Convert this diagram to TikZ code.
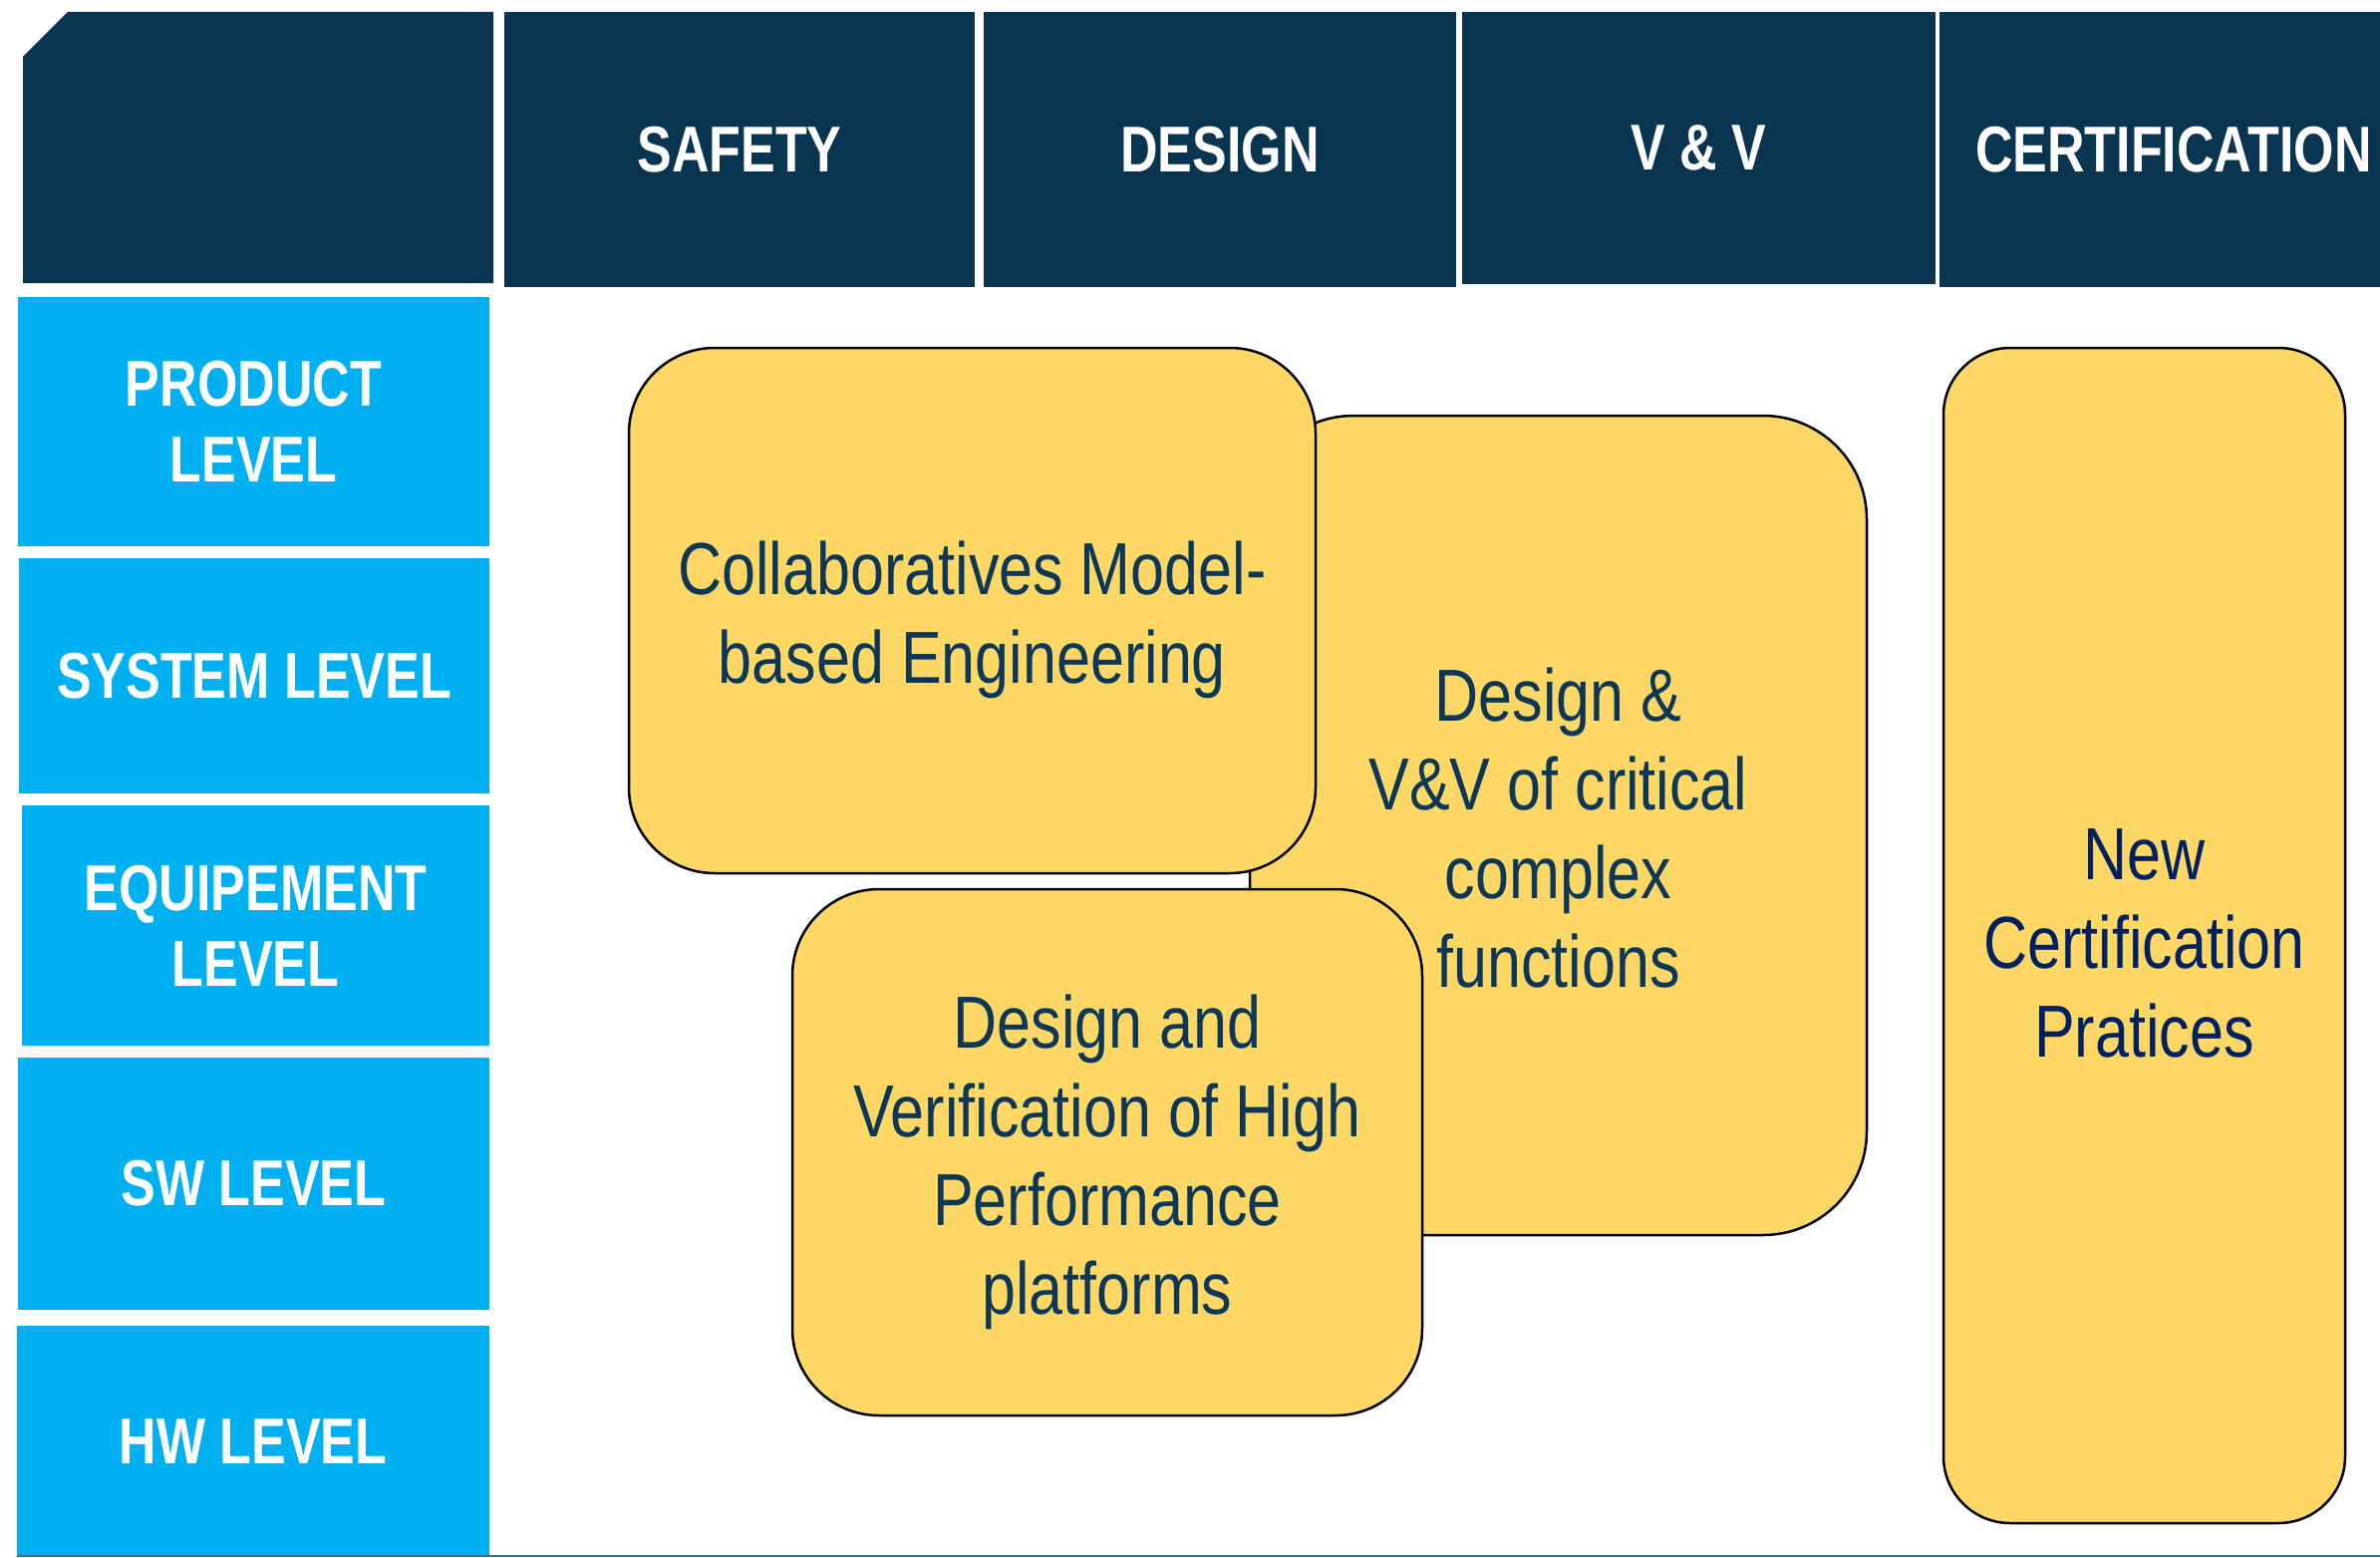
\documentclass[tikz,border=0pt]{standalone}
\usepackage{fontspec}
\setmainfont{Liberation Sans}[FakeStretch=0.8]
\newfontfamily\yfont{Liberation Sans}[FakeStretch=0.825]
\definecolor{hdr}{HTML}{0A3550}
\definecolor{lvl}{HTML}{00B0F0}
\definecolor{yel}{HTML}{FDD866}
\definecolor{ytxt}{HTML}{0C3756}
\definecolor{ctxt}{HTML}{002060}
\definecolor{bline}{HTML}{3F6E9E}
\tikzset{
  hdrbox/.style={fill=hdr, draw=none, inner sep=0pt, outer sep=0pt, text=white,
    font=\bfseries\fontsize{65}{75}\selectfont},
  lvlbox/.style={fill=lvl, draw=none, inner sep=0pt, outer sep=0pt, text=white, align=center,
    font=\bfseries\fontsize{65}{76}\selectfont},
  ybox/.style={fill=yel, draw=black, line width=2.5pt, inner sep=0pt, outer sep=0pt},
  ytext/.style={inner sep=0pt, text=ytxt, align=center, font=\yfont\fontsize{74}{89}\selectfont}
}
\begin{document}
\begin{tikzpicture}[x=1pt,y=-1pt]
\useasboundingbox (0,0) rectangle (2388,1563);
\clip (0,0) rectangle (2388,1563);
\fill[white] (0,0) rectangle (2388,1563);
% corner header
\fill[hdr] (23,57) -- (68,12) -- (495,12) -- (495,284) -- (23,284) -- cycle;
% column headers
\node[hdrbox, minimum width=472, minimum height=276] (hsafe) at (742,150) {SAFETY};
\node[hdrbox, minimum width=474, minimum height=276] (hdes) at (1224,150) {DESIGN};
\node[hdrbox, minimum width=475, minimum height=273] (hvv) at (1704.5,148.5) {V \& V};
\node[hdrbox, minimum width=470, minimum height=276] (hcert) at (2181,150) {CERTIFICATION};
% level boxes
\node[lvlbox, minimum width=473, minimum height=250] (lprod) at (254.5,423) {PRODUCT\\LEVEL};
\node[lvlbox, minimum width=472, minimum height=236] (lsys) at (255,678) {SYSTEM LEVEL};
\node[lvlbox, minimum width=469, minimum height=241] (lequ) at (256.5,928.5) {EQUIPEMENT\\LEVEL};
\node[lvlbox, minimum width=473, minimum height=253] (lsw) at (254.5,1187.5) {SW LEVEL};
\node[lvlbox, minimum width=474, minimum height=232] (lhw) at (254,1446) {HW LEVEL};
% bottom rule
\coordinate (bl) at (17,1561);
\coordinate (br) at (2388,1561);
\draw[bline, line width=2pt] (bl) -- (br);
% yellow boxes
\node[ybox, rounded corners=104pt, minimum width=619, minimum height=822] (b2) at (1563.5,828) {};
\node[ytext] (t2) at ([yshift=-3pt]b2.center) {Design \&\\V\&V of critical\\complex\\functions};
\node[ybox, rounded corners=86pt, minimum width=689, minimum height=527] (b1) at (975.5,612.5) {};
\node[ytext] (t1) at ([yshift=-9pt]b1.center) {Collaboratives Model-\\based Engineering};
\node[ybox, rounded corners=87pt, minimum width=632, minimum height=528] (b3) at (1111,1156) {};
\node[ytext] (t3) at ([yshift=-10pt]b3.center) {Design and\\Verification of High\\Performance\\platforms};
\node[ybox, rounded corners=67pt, minimum width=403, minimum height=1179] (b4) at (2151.5,938.5) {};
\node[ytext, text=ctxt] (t4) at ([yshift=-8pt]b4.center) {New\\Certification\\Pratices};
\end{tikzpicture}
\end{document}
